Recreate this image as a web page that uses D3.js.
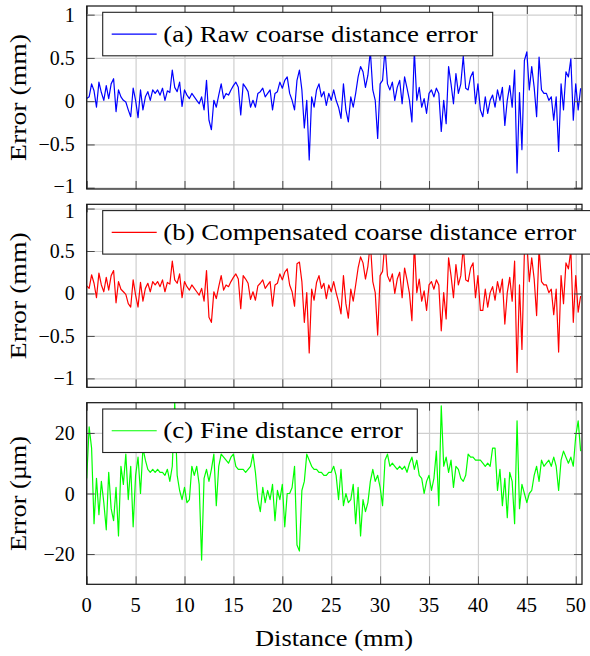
<!DOCTYPE html>
<html><head><meta charset="utf-8">
<script src="https://cdn.jsdelivr.net/npm/d3@7"></script>
</head><body style="margin:0;background:#fff"><svg id="chart" width="590" height="656" style="font-family:'Liberation Serif'"></svg>
<script>
// sampling step along distance (mm)
const step = 0.25;
const xTicks = [0, 5, 10, 15, 20, 25, 30, 35, 40, 45, 50];
const coarseTicks = [-1, -0.5, 0, 0.5, 1];
const fineTicks = [-20, 0, 20];

// (a) Raw coarse distance error (mm)
const rawCoarse = [
 0.03,0.05,0.20,0.12, -0.07,0.22,0.10,0.01, 0.18,0.03,0.20,0.26, -0.12,0.13,0.05,0.01,
 -0.01,-0.10,-0.18,0.15, 0.01,-0.19,0.13,-0.10, 0.05,0.11,0.01,0.13, 0.09,0.13,0.07,0.15,
 0.01,0.12,0.10,0.36, 0.16,0.11,0.22,-0.06, 0.13,0.07,0.03,0.09, 0.05,0.01,-0.03,0.05,
 -0.10,0.24,-0.22,-0.33, 0.01,-0.07,0.07,0.20, 0.03,0.09,0.07,0.13, 0.18,0.22,0.16,-0.16,
 0.20,0.16,0.11,-0.07, 0.01,-0.07,0.09,0.11, 0.15,0.05,0.09,0.13, -0.10,0.09,0.11,0.22,
 0.15,0.24,0.28,0.09, 0.01,-0.10,0.24,0.36, 0.13,-0.31,0.01,-0.68, 0.05,-0.07,0.13,0.20,
 0.05,0.11,-0.05,0.09, 0.01,0.13,0.01,-0.07, -0.20,0.20,-0.10,-0.24, 0.05,-0.07,0.09,0.28,
 0.40,0.34,0.16,0.30, 0.58,0.13,0.01,-0.43, 0.20,0.24,0.60,0.20, 0.13,0.22,0.01,0.16,
 0.24,-0.03,0.28,0.15, 0.01,-0.24,0.58,0.01, 0.16,-0.07,0.03,-0.14, 0.09,0.13,0.05,0.15,
 0.09,-0.35,0.01,-0.26, 0.40,0.20,-0.03,0.32, 0.09,0.20,0.52,0.15, 0.13,0.28,0.34,-0.03,
 0.20,-0.10,-0.18,0.05, -0.14,0.01,0.07,-0.07, 0.13,0.01,0.16,-0.28, 0.01,0.18,-0.07,0.36,
 -0.83,0.10,-0.56,0.47, 0.57,0.13,0.40,0.16, -0.18,0.51,0.13,0.09, 0.09,0.01,0.05,-0.22,
 0.05,-0.58,0.20,-0.10, 0.34,0.28,0.49,-0.22, 0.20,-0.10,0.15
];

// (b) Compensated coarse distance error (mm)
const compCoarse = [
 0.09,0.06,0.22,0.12, -0.05,0.24,0.10,0.02, 0.19,0.04,0.21,0.27, -0.11,0.14,0.05,0.02,
 -0.01,-0.12,-0.16,0.16, -0.02,-0.16,0.13,-0.09, 0.06,0.12,0.02,0.14, 0.10,0.14,0.08,0.16,
 0.02,0.13,0.11,0.38, 0.16,0.12,0.23,-0.05, 0.14,0.08,0.04,0.10, 0.06,0.02,-0.02,0.06,
 -0.09,0.27,-0.28,-0.34, 0.02,-0.06,0.08,0.21, 0.04,0.10,0.08,0.14, 0.19,0.23,0.17,-0.18,
 0.21,0.17,0.12,-0.07, 0.02,-0.08,0.09,0.12, 0.16,0.06,0.10,0.14, -0.15,0.10,0.12,0.23,
 0.16,0.25,0.29,0.10, 0.02,-0.15,0.35,0.37, 0.14,-0.34,0.01,-0.70, 0.05,-0.08,0.13,0.21,
 0.06,0.12,-0.06,0.10, 0.02,0.14,0.01,-0.10, -0.24,0.21,-0.12,-0.29, 0.05,-0.09,0.10,0.30,
 0.43,0.36,0.17,0.32, 0.60,0.14,0.01,-0.49, 0.21,0.26,0.62,0.21, 0.14,0.23,0.00,0.17,
 0.25,-0.05,0.30,0.16, 0.00,-0.32,0.60,0.01, 0.17,-0.09,0.03,-0.20, 0.10,0.14,0.05,0.16,
 0.10,-0.44,0.01,-0.30, 0.42,0.21,-0.05,0.34, 0.10,0.21,0.55,0.16, 0.14,0.30,0.36,-0.05,
 0.21,-0.20,-0.20,0.05, -0.16,0.01,0.08,-0.08, 0.14,0.01,0.17,-0.36, 0.01,0.19,-0.09,0.38,
 -0.93,0.10,-0.66,0.49, 0.60,0.14,0.42,0.17, -0.26,0.53,0.14,0.10, 0.10,0.01,0.05,-0.25,
 0.05,-0.69,0.21,-0.12, 0.36,0.29,0.51,-0.34, 0.21,-0.22,-0.03
];

// (c) Fine distance error (µm)
const fineErr = [
 5,22,15,-10, 5,-7,4,-3, -12,7,-5,-9, 2,-14,9,3,
 13,-2,9,-11, 6,12,0,15, 11,8,7,8, 7,8,7,7,
 6,8,4,9, 30,6,1,-2, 2,-3,-2,9, 6,9,3,-22,
 5,8,4,8, 13,-4,9,13, 12,11,10,12, 13,9,8,8,
 8,7,8,9, 13,7,-2,-6, 2,-3,1,-2, 3,-9,1,-2,
 3,-11,0,0, 2,9,-17,-19, 1,4,13,11, 9,8,8,7,
 7,6,6,7, 7,9,6,-2, 8,-4,0,-3, -2,3,-10,2,
 -14,-2,-6,-3, 4,8,4,6, 2,-4,11,13, 9,10,9,8,
 9,8,9,7, 10,12,8,11, 6,5,0,4, 6,1,5,14,
 -4,29,9,12, 7,11,2,9, 8,5,4,6, 13,12,12,11,
 11,11,10,9, 10,9,15,15, 1,8,-4,5, -8,7,4,-10,
 24,-5,3,0, -3,0,1,6, 9,4,11,9, 10,11,9,12,
 9,1,11,14, 12,10,12,9, 19,24,14
];

const legendLabels = ["(a) Raw coarse distance error", "(b) Compensated coarse distance error", "(c) Fine distance error"];
const yLabels = ["Error (mm)", "Error (mm)", "Error (\u00b5m)"];
const xLabel = "Distance (mm)";
const colors = ["#0000ff", "#ff0000", "#00ff00"];
const ST = size => `font-family:'Liberation Serif';font-size:${size}px`;

const svg = d3.select("#chart");
const X0 = 86.7, X1 = 582;
const x = d3.scaleLinear().domain([0, 50.64]).range([X0, X1]);

const panels = [
  {top: 6, bottom: 189, domain: [-1.015, 1.1], ticks: coarseTicks, data: rawCoarse, legendW: 390, textLen: 314.5, yLen: 127},
  {top: 204.3, bottom: 387.3, domain: [-1.105, 1.05], ticks: coarseTicks, data: compCoarse, legendW: 500, textLen: 413, yLen: 127},
  {top: 402.7, bottom: 584.3, domain: [-30, 30], ticks: fineTicks, data: fineErr, legendW: 314.6, textLen: 239.5, yLen: 115}
];

const fmt = v => String(v).replace("-", "\u2212");
const TL = 8;
const textLayer = [];

panels.forEach((p, i) => {
  const y = d3.scaleLinear().domain(p.domain).range([p.bottom, p.top]);
  const h = p.bottom - p.top, w = X1 - X0;
  const g = svg.append("g");

  // grid
  g.append("g").attr("transform", `translate(0,${p.bottom})`)
    .call(d3.axisBottom(x).tickValues(xTicks).tickSize(-h).tickFormat(""))
    .call(a => { a.select(".domain").remove(); a.selectAll("line").attr("stroke", "#cfcfcf").attr("stroke-width", 1.2); });
  g.append("g").attr("transform", `translate(${X0},0)`)
    .call(d3.axisLeft(y).tickValues(p.ticks).tickSize(-w).tickFormat(""))
    .call(a => { a.select(".domain").remove(); a.selectAll("line").attr("stroke", "#cfcfcf").attr("stroke-width", 1.2); });

  const cid = "clip" + i;
  svg.append("clipPath").attr("id", cid).append("rect")
    .attr("x", X0).attr("y", p.top).attr("width", w).attr("height", h);

  const line = d3.line().x((d, j) => x(j * step)).y(d => y(d));
  g.append("path").datum(p.data).attr("clip-path", `url(#${cid})`)
    .attr("d", line).attr("fill", "none").attr("stroke", colors[i])
    .attr("stroke-width", 1.2).attr("stroke-linejoin", "round");

  // ticks inside on all sides (labels drawn separately as plain text)
  const styleTicks = a => { a.select(".domain").remove(); a.selectAll("line").attr("stroke", "#4a4a4a").attr("stroke-width", 1); a.selectAll("text").remove(); };
  g.append("g").attr("transform", `translate(0,${p.bottom})`)
    .call(d3.axisBottom(x).tickValues(xTicks).tickSize(-TL)).call(styleTicks);
  g.append("g").attr("transform", `translate(0,${p.top})`)
    .call(d3.axisTop(x).tickValues(xTicks).tickSize(-TL)).call(styleTicks);
  g.append("g").attr("transform", `translate(${X0},0)`)
    .call(d3.axisLeft(y).tickValues(p.ticks).tickSize(-TL)).call(styleTicks);
  g.append("g").attr("transform", `translate(${X1},0)`)
    .call(d3.axisRight(y).tickValues(p.ticks).tickSize(-TL)).call(styleTicks);

  p.ticks.forEach(t => {
    let nudge = 0;
    if (i === 0 && t === -1) nudge = -2;
    if (i === 1 && t === 1) nudge = 2;
    textLayer.push({x: X0 - 12, y: y(t) + 7 + nudge, s: fmt(t), size: 20, anchor: "end"});
  });
  if (i === 2) xTicks.forEach(t => textLayer.push({x: x(t), y: 612, s: String(t), size: 20.5, anchor: "middle"}));

  g.append("rect").attr("x", X0).attr("y", p.top).attr("width", w).attr("height", h)
    .attr("fill", "none").attr("stroke", "#111").attr("stroke-width", 1.2);

  // legend
  const lt = p.top + 6.3, lh = 43.5, lc = lt + lh / 2;
  g.append("rect").attr("x", 102.7).attr("y", lt).attr("width", p.legendW).attr("height", lh)
    .attr("fill", "#fff").attr("stroke", "#222").attr("stroke-width", 1.1);
  g.append("line").attr("x1", 111.7).attr("x2", 156.7).attr("y1", lc).attr("y2", lc)
    .attr("stroke", colors[i]).attr("stroke-width", 1.2);
  textLayer.push({x: 163.3, y: lc + 7.5, s: legendLabels[i], size: 24, anchor: "start", len: p.textLen});
  textLayer.push({x: 25.5, y: (p.top + p.bottom) / 2, s: yLabels[i], size: 24, anchor: "middle", len: p.yLen, rot: true});
});
textLayer.push({x: 334, y: 646, s: xLabel, size: 24, anchor: "middle", len: 158});

textLayer.forEach(t => {
  const el = svg.append("text").attr("style", ST(t.size)).attr("fill", "#000")
    .attr("text-anchor", t.anchor).text(t.s);
  if (t.rot) el.attr("transform", `translate(${t.x},${t.y}) rotate(-90)`);
  else el.attr("x", t.x).attr("y", t.y);
  if (t.len) el.attr("textLength", t.len).attr("lengthAdjust", "spacingAndGlyphs");
});
</script></body></html>
